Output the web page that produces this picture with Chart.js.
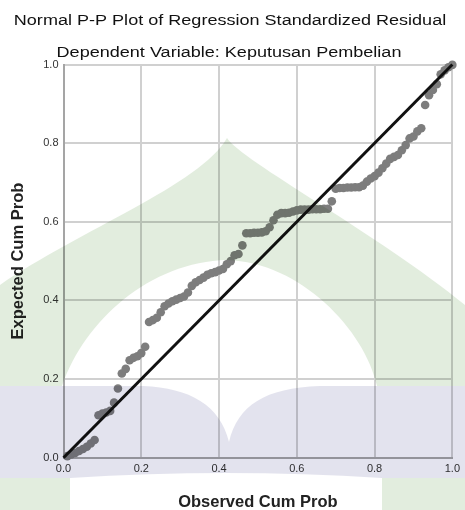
<!DOCTYPE html>
<html>
<head>
<meta charset="utf-8">
<script src="https://cdn.jsdelivr.net/npm/chart.js@4.4.1/dist/chart.umd.min.js"></script>
<style>
  html, body { margin: 0; padding: 0; background: #fff; }
  #wrap { width: 465px; height: 510px; position: relative; }
</style>
</head>
<body>
<div id="wrap"><canvas id="ppChart"></canvas></div>
<script>
// Observed cumulative probability (x) and expected cumulative probability (y)
const observedCumProb = [
  0.01, 0.02, 0.03, 0.04, 0.05, 0.06, 0.07, 0.08, 0.09, 0.10,
  0.11, 0.12, 0.13, 0.14, 0.15, 0.16, 0.17, 0.18, 0.19, 0.20,
  0.21, 0.22, 0.23, 0.24, 0.25, 0.26, 0.27, 0.28, 0.29, 0.30,
  0.31, 0.32, 0.33, 0.34, 0.35, 0.36, 0.37, 0.38, 0.39, 0.40,
  0.41, 0.42, 0.43, 0.44, 0.45, 0.46, 0.47, 0.48, 0.49, 0.50,
  0.51, 0.52, 0.53, 0.54, 0.55, 0.56, 0.57, 0.58, 0.59, 0.60,
  0.61, 0.62, 0.63, 0.64, 0.65, 0.66, 0.67, 0.68, 0.69, 0.70,
  0.71, 0.72, 0.73, 0.74, 0.75, 0.76, 0.77, 0.78, 0.79, 0.80,
  0.81, 0.82, 0.83, 0.84, 0.85, 0.86, 0.87, 0.88, 0.89, 0.90,
  0.91, 0.92, 0.93, 0.94, 0.95, 0.96, 0.97, 0.98, 0.99, 1.00
];
const expectedCumProb = [
  0.004, 0.008, 0.012, 0.017, 0.022, 0.028, 0.036, 0.045, 0.108, 0.112,
  0.115, 0.119, 0.140, 0.176, 0.214, 0.226, 0.248, 0.254, 0.258, 0.266,
  0.282, 0.345, 0.350, 0.356, 0.370, 0.385, 0.392, 0.398, 0.402, 0.406,
  0.410, 0.420, 0.437, 0.446, 0.452, 0.458, 0.465, 0.469, 0.472, 0.476,
  0.480, 0.492, 0.500, 0.515, 0.518, 0.540, 0.571, 0.571, 0.572, 0.572,
  0.573, 0.576, 0.586, 0.604, 0.618, 0.622, 0.622, 0.623, 0.626, 0.629,
  0.631, 0.631, 0.631, 0.632, 0.632, 0.632, 0.633, 0.633, 0.652, 0.684,
  0.686, 0.686, 0.687, 0.687, 0.688, 0.688, 0.692, 0.702, 0.710, 0.716,
  0.725, 0.736, 0.748, 0.760, 0.765, 0.770, 0.782, 0.795, 0.812, 0.817,
  0.830, 0.838, 0.897, 0.922, 0.935, 0.950, 0.975, 0.985, 0.993, 0.999
];
// diagonal reference line
const refLineX = [0, 1];
const refLineY = [0, 1];
const tickLabels = ['0.0', '0.2', '0.4', '0.6', '0.8', '1.0'];

const chartTitle = 'Normal P-P Plot of Regression Standardized Residual';
const chartSubtitle = 'Dependent Variable: Keputusan Pembelian';
const xAxisTitle = 'Observed Cum Prob';
const yAxisTitle = 'Expected Cum Prob';

const FONT = '"Liberation Sans", Arial, sans-serif';

// white page behind the chart
const bgPlugin = {
  id: 'whiteBg',
  beforeDraw(chart) {
    const ctx = chart.ctx;
    ctx.save();
    ctx.fillStyle = '#ffffff';
    ctx.fillRect(0, 0, chart.width, chart.height);
    ctx.restore();
  }
};

// titles are a bit wider than plain Arial in the original, so stretch them
function drawStretched(ctx, text, cx, baseline, sx) {
  ctx.save();
  ctx.translate(cx, baseline);
  ctx.scale(sx, 1);
  ctx.fillText(text, 0, 0);
  ctx.restore();
}

const titlePlugin = {
  id: 'stretchedTitles',
  afterDraw(chart) {
    const ctx = chart.ctx;
    ctx.save();
    ctx.fillStyle = '#111111';
    ctx.textAlign = 'center';
    ctx.textBaseline = 'alphabetic';
    ctx.font = '15.3px ' + FONT;
    drawStretched(ctx, chartTitle, 230, 25, 1.18);
    drawStretched(ctx, chartSubtitle, 229, 57, 1.18);
    ctx.restore();
  }
};

// faint logo watermark laid over the whole image
const watermarkPlugin = {
  id: 'watermark',
  afterDraw(chart) {
    const ctx = chart.ctx;
    ctx.save();
    ctx.globalCompositeOperation = 'multiply';

    // green dome
    ctx.fillStyle = 'rgb(226,237,222)';
    ctx.beginPath();
    ctx.moveTo(0, 386);
    ctx.lineTo(0, 285);
    ctx.bezierCurveTo(80, 230, 200, 185, 227, 138);
    ctx.bezierCurveTo(240, 160, 380, 235, 465, 305);
    ctx.lineTo(465, 386);
    ctx.lineTo(377, 386);
    ctx.bezierCurveTo(365, 330, 300, 262, 227, 260);
    ctx.bezierCurveTo(150, 262, 85, 320, 62, 386);
    ctx.closePath();
    ctx.fill();

    // lower green corners
    ctx.fillRect(0, 478, 70, 32);
    ctx.fillRect(382, 478, 83, 32);

    // lavender band with notch
    ctx.fillStyle = 'rgb(227,227,238)';
    ctx.beginPath();
    ctx.moveTo(0, 386);
    ctx.lineTo(143, 386);
    ctx.bezierCurveTo(190, 388, 220, 405, 229, 442);
    ctx.bezierCurveTo(238, 405, 265, 388, 320, 386);
    ctx.lineTo(465, 386);
    ctx.lineTo(465, 478);
    ctx.lineTo(382, 478);
    ctx.quadraticCurveTo(226, 468, 70, 478);
    ctx.lineTo(0, 478);
    ctx.closePath();
    ctx.fill();

    ctx.restore();
  }
};

const ctx = document.getElementById('ppChart');

new Chart(ctx, {
  type: 'scatter',
  data: {
    datasets: [
      {
        type: 'line',
        label: 'Reference',
        data: refLineX.map((x, i) => ({ x: x, y: refLineY[i] })),
        borderColor: '#111111',
        borderWidth: 3,
        pointRadius: 0,
        fill: false,
        clip: false,
        order: 0
      },
      {
        label: 'Residual',
        data: observedCumProb.map((x, i) => ({ x: x, y: expectedCumProb[i] })),
        backgroundColor: '#7d7d7d',
        borderWidth: 0,
        pointRadius: 4.3,
        clip: false,
        order: 1
      }
    ]
  },
  options: {
    responsive: true,
    maintainAspectRatio: false,
    animation: false,
    events: [],
    layout: {
      padding: { top: 64.5, right: 8.3, left: 0, bottom: 0 }
    },
    plugins: {
      legend: { display: false },
      tooltip: { enabled: false },
      title: { display: false }
    },
    scales: {
      x: {
        type: 'linear',
        min: 0,
        max: 1,
        afterFit: function (scale) { scale.height = 52.3; },
        afterBuildTicks: function (scale) {
          scale.ticks = tickLabels.map(t => ({ value: parseFloat(t) }));
        },
        ticks: {
          callback: (v, i) => tickLabels[i],
          padding: 5,
          maxRotation: 0,
          color: '#333333',
          font: { family: FONT, size: 11 }
        },
        grid: { color: '#d0d0d0', lineWidth: 2, drawTicks: false },
        border: { color: '#a5a5a5', width: 2 },
        title: {
          display: true,
          text: xAxisTitle,
          color: '#222222',
          font: { family: FONT, size: 16.5, weight: 'bold' },
          padding: { top: 0, bottom: -2 }
        }
      },
      y: {
        type: 'linear',
        min: 0,
        max: 1,
        afterFit: function (scale) { scale.width = 63.5; },
        afterBuildTicks: function (scale) {
          scale.ticks = tickLabels.map(t => ({ value: parseFloat(t) }));
        },
        ticks: {
          callback: (v, i) => tickLabels[i],
          padding: 5,
          color: '#333333',
          font: { family: FONT, size: 11 }
        },
        grid: { color: '#d0d0d0', lineWidth: 2, drawTicks: false },
        border: { color: '#a5a5a5', width: 2 },
        title: {
          display: true,
          text: yAxisTitle,
          color: '#222222',
          font: { family: FONT, size: 16.5, weight: 'bold' },
          padding: { top: 9, bottom: 0 }
        }
      }
    }
  },
  plugins: [bgPlugin, titlePlugin, watermarkPlugin]
});
</script>
</body>
</html>
